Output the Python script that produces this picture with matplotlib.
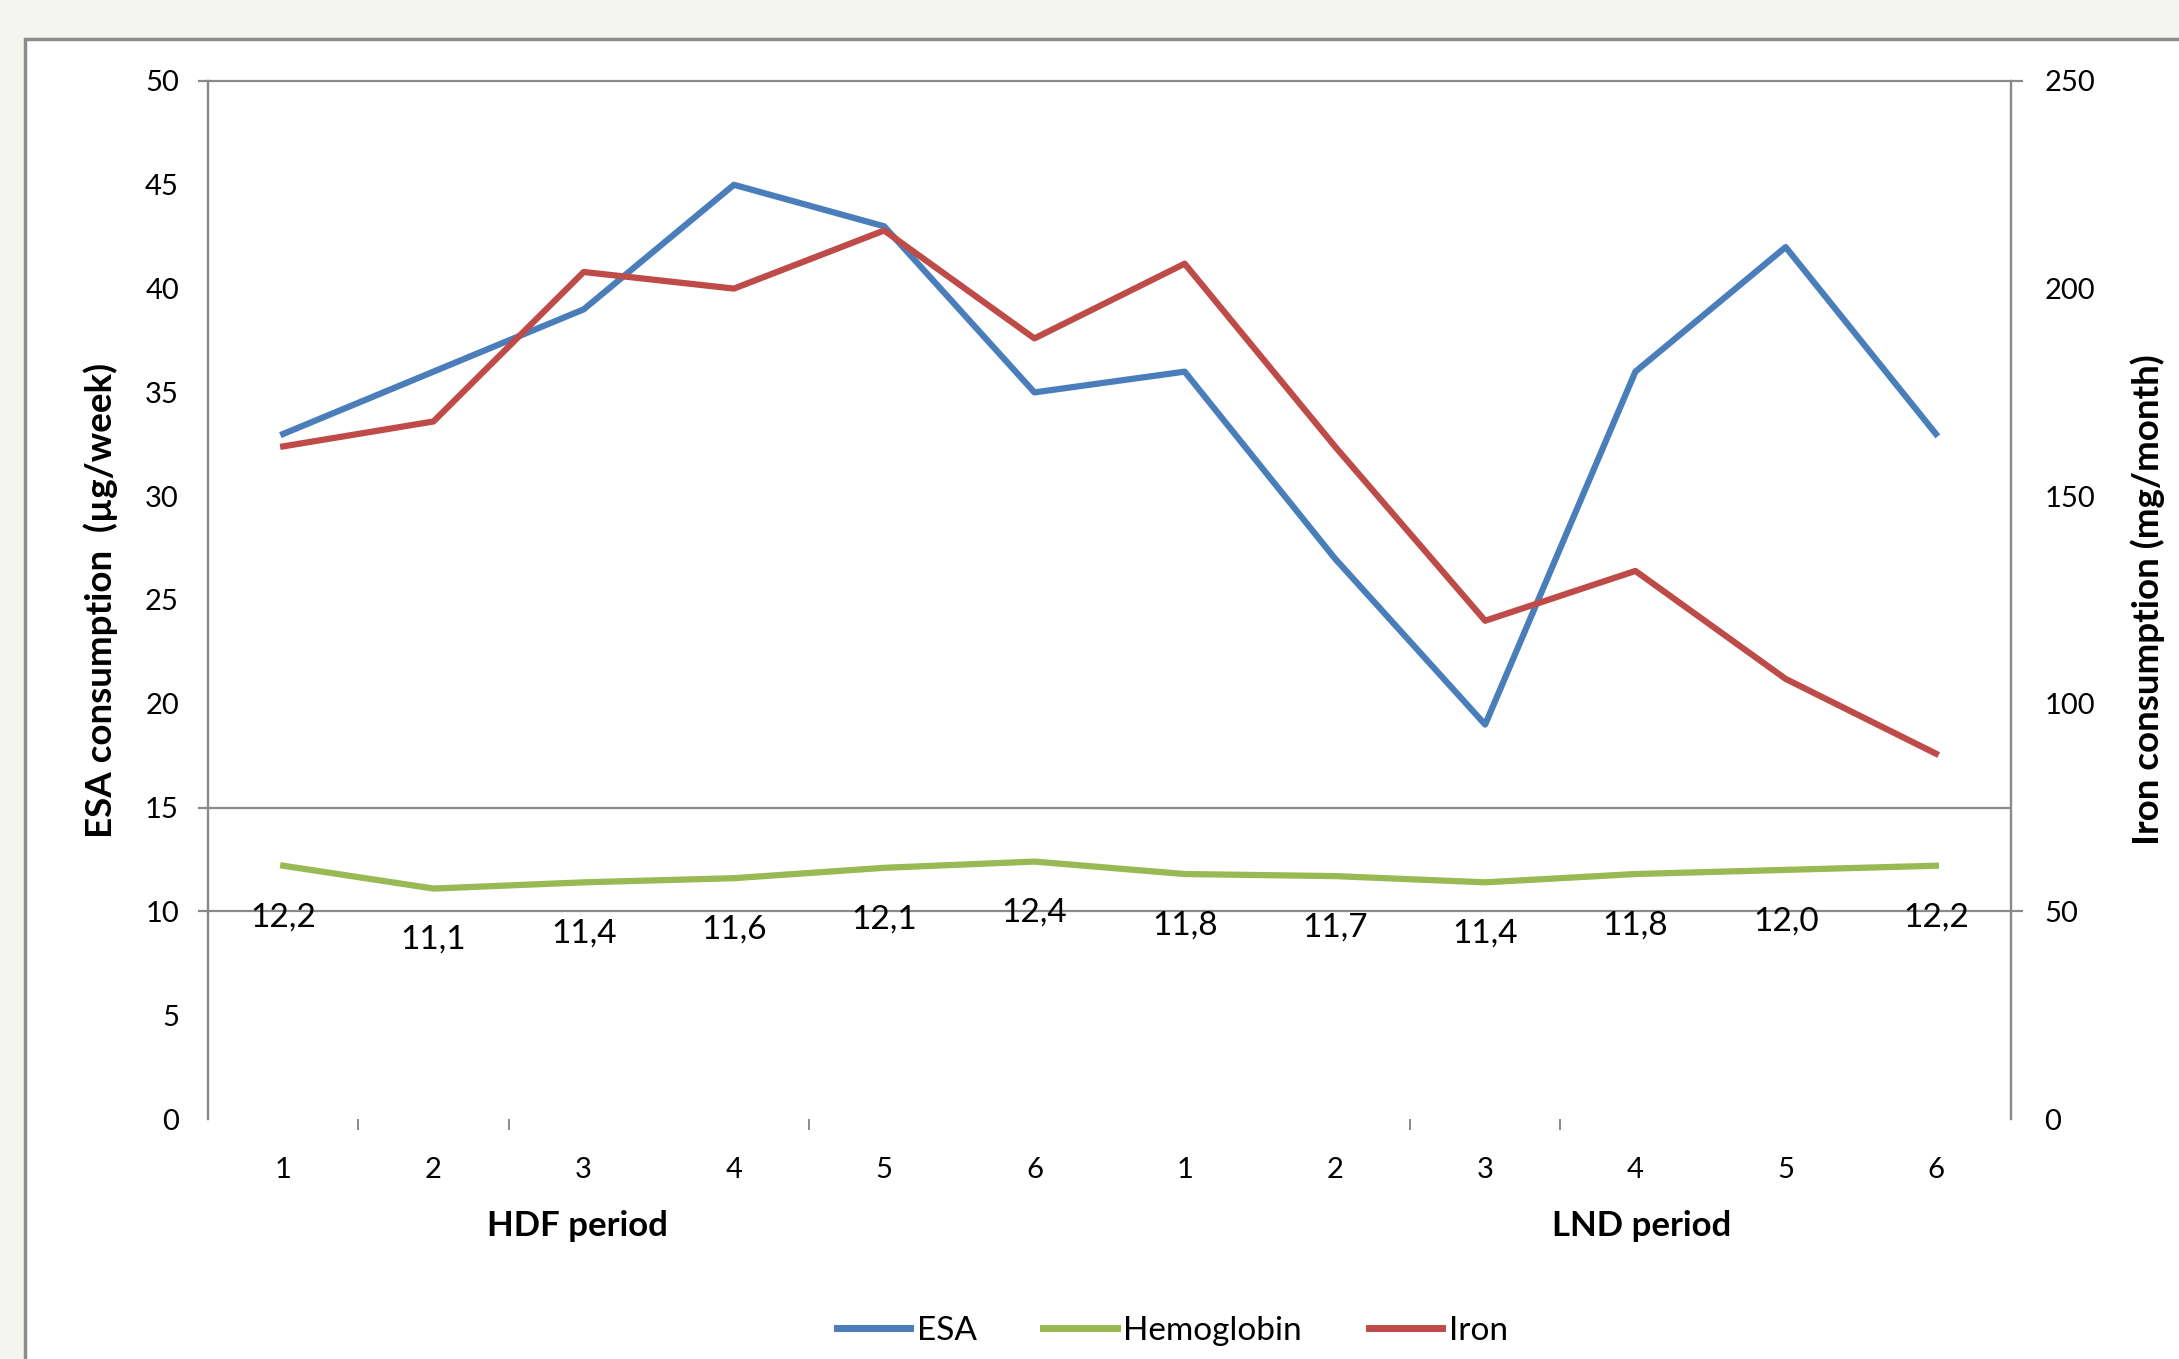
import matplotlib
matplotlib.use("Agg")
import matplotlib.pyplot as plt
from matplotlib.patches import Rectangle
from matplotlib.transforms import blended_transform_factory

plt.rcParams["font.family"] = ["Lato", "DejaVu Sans"]

months = ["1", "2", "3", "4", "5", "6", "1", "2", "3", "4", "5", "6"]
periods = ["HDF period", "LND period"]
esa = [33, 36, 39, 45, 43, 35, 36, 27, 19, 36, 42, 33]
hemoglobin = [12.2, 11.1, 11.4, 11.6, 12.1, 12.4, 11.8, 11.7, 11.4, 11.8, 12.0, 12.2]
iron = [162, 168, 204, 200, 214, 188, 206, 162, 120, 132, 106, 88]

blue = "#4a7ebb"
green = "#98b954"
red = "#be4b48"
axis_gray = "#8a8a8a"

fig = plt.figure(figsize=(21.79, 13.59), dpi=100, facecolor="#f4f5f0")

# white chart panel with grey frame
panel = Rectangle((0.0115, -0.2), 1.2, 0.9713 + 0.2, transform=fig.transFigure,
                  facecolor="white", edgecolor="#8c8c8c", linewidth=2.5, zorder=-10)
fig.patches.append(panel)

ax = fig.add_axes([0.0955, 0.1766, 0.8274, 0.7638])
ax.set_facecolor("none")
ax2 = ax.twinx()
ax2.set_facecolor("none")

x = list(range(len(months)))

ax.plot(x, esa, color=blue, lw=4.5, label="ESA", zorder=3)
ax.plot(x, hemoglobin, color=green, lw=4.5, label="Hemoglobin", zorder=3)
ax2.plot(x, iron, color=red, lw=4.5, label="Iron", zorder=3)

ax.set_xlim(-0.5, 11.5)
ax.set_ylim(0, 50)
ax2.set_ylim(0, 250)

# hemoglobin values below the line
for xi, v in zip(x, hemoglobin):
    ax.annotate(f"{v:.1f}".replace(".", ","), (xi, v), xytext=(0, -37),
                textcoords="offset points", ha="center", va="center", fontsize=24)

# horizontal rules
ax.hlines([15], -0.565, 11.5, color=axis_gray, lw=1.6, clip_on=False, zorder=2)
ax.hlines([10, 50], -0.565, 11.58, color=axis_gray, lw=1.6, clip_on=False, zorder=2)

for a in (ax, ax2):
    a.spines["top"].set_visible(False)
    a.spines["bottom"].set_visible(False)
    a.spines["left"].set_color(axis_gray)
    a.spines["right"].set_color(axis_gray)
    a.spines["left"].set_linewidth(1.6)
    a.spines["right"].set_linewidth(1.6)

ax.set_yticks(range(0, 51, 5))
ax.tick_params(axis="y", length=0, pad=21, labelsize=21)
ax2.set_yticks(range(0, 251, 50))
ax2.tick_params(axis="y", length=0, pad=24, labelsize=21)

ax.set_xticks(x, months)
ax.tick_params(axis="x", length=0, pad=27, labelsize=21)
ax.set_xticks([0.5, 1.5, 3.5, 7.5, 8.5], minor=True)
ax.tick_params(axis="x", which="minor", length=8, width=1.4, color=axis_gray, direction="out")

trans = blended_transform_factory(ax.transData, ax.transAxes)
ax.text(1.96, -0.103, periods[0], transform=trans, ha="center", va="center",
        fontsize=25, fontweight="bold")
ax.text(9.04, -0.103, periods[1], transform=trans, ha="center", va="center",
        fontsize=25, fontweight="bold")

ax.set_ylabel("ESA consumption  (\u00b5g/week)", fontsize=26.5, fontweight="bold")
ax.yaxis.set_label_coords(-0.05, 0.5)
ax2.set_ylabel("Iron consumption (mg/month)", fontsize=26.5, fontweight="bold")
ax2.yaxis.set_label_coords(1.066, 0.5)

h1, l1 = ax.get_legend_handles_labels()
h2, l2 = ax2.get_legend_handles_labels()
leg = fig.legend(h1 + h2, l1 + l2, loc="center", bbox_to_anchor=(0.538, 0.0206), ncol=3,
                 frameon=False, fontsize=24, handlelength=2.2, handletextpad=0.2,
                 columnspacing=2.0)
for line in leg.get_lines():
    line.set_linewidth(5)

fig.savefig("out.png", dpi=100, facecolor=fig.get_facecolor())
